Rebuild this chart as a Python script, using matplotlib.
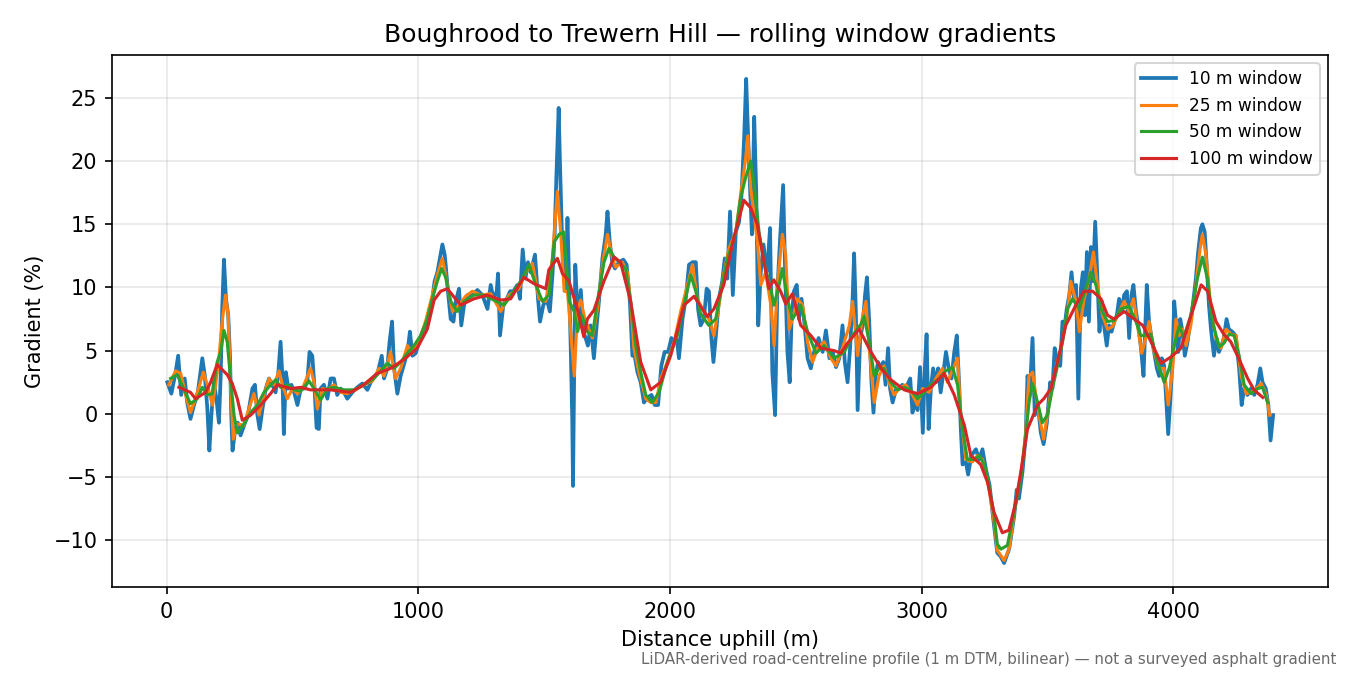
import matplotlib
matplotlib.use('Agg')
import matplotlib.pyplot as plt

# Values (distance in m, gradient in %)
dist_10 = [3, 19, 36, 46, 58, 72, 82, 95, 109, 124, 142, 152, 162, 170, 178, 188, 198, 208, 215, 221,
           228, 236, 245, 252, 257, 262, 273, 283, 294, 310, 323, 341, 351, 361, 370, 381, 394, 407, 420, 433,
           443, 453, 460, 466, 474, 484, 496, 507, 520, 533, 546, 559, 568, 579, 588, 596, 605, 612, 625, 639,
           652, 665, 678, 692, 705, 718, 738, 758, 778, 798, 818, 838, 855, 864, 877, 886, 896, 904, 917, 930,
           946, 959, 967, 977, 990, 1003, 1017, 1029, 1043, 1056, 1065, 1076, 1086, 1096, 1105, 1109, 1118, 1129, 1140, 1149,
           1162, 1171, 1182, 1195, 1215, 1235, 1255, 1275, 1288, 1299, 1312, 1317, 1325, 1338, 1352, 1365, 1378, 1394, 1404, 1415,
           1426, 1436, 1447, 1464, 1476, 1484, 1497, 1510, 1523, 1534, 1542, 1550, 1558, 1563, 1571, 1579, 1586, 1593, 1601, 1606,
           1612, 1615, 1624, 1635, 1646, 1656, 1665, 1674, 1685, 1698, 1709, 1718, 1732, 1745, 1752, 1761, 1772, 1782, 1798, 1815,
           1828, 1841, 1851, 1860, 1871, 1884, 1897, 1911, 1927, 1940, 1953, 1966, 1979, 1993, 2006, 2017, 2027, 2036, 2050, 2063,
           2076, 2090, 2103, 2112, 2122, 2135, 2146, 2155, 2165, 2173, 2182, 2195, 2208, 2218, 2228, 2239, 2250, 2262, 2275, 2284,
           2295, 2303, 2310, 2318, 2326, 2335, 2343, 2351, 2361, 2372, 2384, 2390, 2398, 2407, 2418, 2427, 2438, 2450, 2458, 2467,
           2476, 2484, 2493, 2504, 2513, 2523, 2533, 2547, 2560, 2573, 2591, 2607, 2620, 2634, 2647, 2660, 2673, 2686, 2695, 2706,
           2716, 2726, 2732, 2739, 2746, 2756, 2766, 2776, 2783, 2792, 2801, 2809, 2818, 2827, 2838, 2848, 2857, 2867, 2875, 2885,
           2898, 2911, 2924, 2937, 2955, 2964, 2973, 2984, 2994, 3005, 3013, 3020, 3028, 3037, 3046, 3057, 3066, 3076, 3087, 3097,
           3108, 3119, 3130, 3140, 3149, 3156, 3163, 3176, 3185, 3198, 3216, 3229, 3242, 3256, 3270, 3282, 3301, 3315, 3328, 3348,
           3368, 3378, 3387, 3401, 3414, 3421, 3431, 3441, 3450, 3461, 3474, 3485, 3498, 3511, 3520, 3529, 3540, 3551, 3560, 3569,
           3577, 3587, 3596, 3606, 3614, 3623, 3633, 3641, 3649, 3657, 3665, 3673, 3681, 3690, 3699, 3707, 3716, 3725, 3736, 3745,
           3755, 3766, 3776, 3785, 3795, 3805, 3816, 3825, 3834, 3842, 3852, 3863, 3872, 3882, 3895, 3904, 3914, 3924, 3935, 3944,
           3955, 3964, 3972, 3980, 3988, 3998, 4004, 4012, 4020, 4028, 4037, 4046, 4057, 4068, 4078, 4090, 4099, 4110, 4116, 4125,
           4133, 4142, 4151, 4162, 4172, 4182, 4192, 4201, 4212, 4221, 4235, 4248, 4262, 4272, 4282, 4295, 4309, 4322, 4335, 4346,
           4355, 4368, 4378, 4387, 4397]
grad_10 = [2.5, 1.6, 3.3, 4.6, 1.5, 2.8, 0.9, -0.4, 0.7, 1.7, 4.4, 3.0, 0.4, -2.9, -0.1, 2.5, 1.2, -0.7, 3.0, 8.3,
           12.2, 9.1, 7.8, 4.6, -0.1, -2.9, -1.2, -0.7, -1.7, -0.8, -0.1, 2.0, 2.3, -0.1, -1.2, 0.4, 2.0, 2.8, 2.3, 1.7,
           3.0, 5.7, 3.0, -1.6, 3.3, 2.0, 2.3, 1.7, 0.7, 2.0, 2.0, 2.5, 4.9, 4.6, 2.0, -1.1, -1.2, 2.0, 2.3, 1.2,
           2.8, 2.8, 1.5, 2.0, 1.7, 1.2, 1.7, 2.1, 2.4, 1.9, 2.8, 3.2, 4.6, 2.8, 3.6, 5.7, 7.3, 3.6, 1.6, 3.0,
           4.1, 5.2, 6.5, 4.6, 4.8, 5.7, 6.5, 7.0, 8.1, 9.1, 10.5, 11.2, 12.3, 13.4, 12.6, 11.8, 9.7, 7.5, 7.3, 8.9,
           9.9, 7.0, 8.6, 9.4, 9.4, 9.8, 9.4, 8.3, 10.2, 9.1, 9.7, 11.1, 6.2, 8.6, 9.1, 9.7, 9.7, 10.2, 9.1, 13.0,
           10.7, 12.0, 11.2, 12.6, 9.1, 7.3, 8.6, 9.1, 8.1, 11.2, 14.2, 19.4, 24.2, 20.0, 14.2, 12.3, 9.7, 15.5, 9.1, 5.2,
           -0.4, -5.7, 11.8, 7.0, 9.8, 6.5, 6.0, 5.4, 7.0, 4.4, 7.0, 8.9, 12.3, 14.2, 16.0, 13.6, 11.9, 11.5, 12.0, 12.2,
           11.8, 8.9, 4.6, 4.6, 3.3, 2.5, 0.9, 1.3, 1.5, 0.7, 0.7, 3.8, 4.9, 4.9, 6.0, 5.7, 6.0, 4.4, 7.5, 9.1,
           11.8, 12.0, 12.0, 8.3, 7.0, 7.5, 9.9, 9.7, 6.0, 4.1, 6.0, 9.1, 10.5, 12.3, 10.7, 16.0, 9.4, 14.4, 15.2, 17.1,
           21.8, 26.5, 22.4, 18.1, 14.2, 23.5, 17.6, 7.0, 11.2, 13.4, 11.2, 12.3, 14.7, 3.3, -0.1, 9.7, 13.9, 18.1, 11.2, 4.9,
           2.5, 7.8, 9.7, 10.2, 7.5, 9.1, 7.5, 4.4, 3.6, 4.9, 6.0, 4.9, 6.6, 4.4, 4.9, 3.7, 4.4, 7.0, 4.1, 2.5,
           5.2, 9.1, 12.7, 8.1, 0.3, 6.0, 7.0, 9.5, 10.8, 7.3, 2.5, 0.1, 3.0, 4.1, 3.6, 4.1, 2.3, 5.2, 2.0, 0.9,
           1.9, 2.0, 2.3, 2.0, 2.8, 0.1, 1.2, 0.3, 3.7, -1.5, 3.6, 6.3, -1.2, 2.0, 3.6, 2.5, 3.6, 1.7, 3.3, 4.9,
           3.6, 2.8, 4.9, 6.2, 2.5, -1.2, -4.0, -3.8, -4.8, -3.3, -2.8, -3.6, -2.8, -4.4, -5.6, -7.8, -11.0, -11.3, -11.8, -10.7,
           -8.1, -6.0, -6.7, -4.6, -1.7, 3.0, 2.0, 6.0, -0.1, 0.9, -1.5, -2.4, -0.7, 2.5, 2.0, 5.2, 4.1, 3.8, 7.3, 7.0,
           8.3, 9.4, 11.2, 8.9, 10.2, 1.2, 9.9, 11.2, 7.8, 12.8, 7.3, 13.2, 10.5, 15.2, 10.7, 6.5, 8.9, 7.0, 5.4, 7.0,
           6.5, 7.3, 7.8, 9.1, 8.1, 9.4, 9.7, 6.0, 9.4, 10.2, 8.1, 6.7, 5.2, 3.0, 10.2, 7.3, 6.0, 4.9, 3.6, 3.0,
           4.4, 3.8, 1.2, -1.6, 0.9, 4.6, 8.9, 7.0, 4.9, 7.5, 6.5, 4.6, 5.7, 7.3, 8.6, 10.7, 12.8, 14.7, 15.0, 14.4,
           11.8, 8.6, 6.5, 4.6, 6.0, 4.9, 5.4, 6.0, 7.5, 6.7, 6.5, 6.2, 3.6, 0.7, 2.0, 1.5, 2.0, 1.5, 2.3, 3.6,
           2.5, 2.0, 0.7, -2.1, -0.1]

dist_25 = [9, 36, 56, 76, 95, 115, 146, 162, 182, 195, 208, 221, 234, 245, 254, 265, 281, 307, 327, 347,
           367, 387, 407, 427, 447, 460, 480, 500, 520, 540, 572, 586, 599, 619, 639, 665, 692, 718, 751, 784,
           818, 844, 864, 890, 910, 930, 957, 977, 1003, 1029, 1056, 1076, 1096, 1116, 1136, 1162, 1188, 1215, 1248, 1288,
           1328, 1361, 1400, 1427, 1454, 1480, 1507, 1533, 1553, 1566, 1580, 1593, 1609, 1620, 1633, 1646, 1662, 1672, 1692, 1712,
           1732, 1752, 1772, 1785, 1811, 1831, 1844, 1857, 1877, 1904, 1924, 1944, 1964, 1990, 2017, 2043, 2070, 2090, 2109, 2129,
           2155, 2175, 2195, 2215, 2235, 2262, 2281, 2301, 2310, 2321, 2335, 2348, 2361, 2381, 2401, 2414, 2427, 2447, 2460, 2474,
           2487, 2507, 2527, 2547, 2567, 2587, 2613, 2640, 2660, 2686, 2713, 2726, 2746, 2766, 2779, 2792, 2812, 2831, 2851, 2871,
           2891, 2911, 2937, 2964, 2984, 3004, 3030, 3057, 3083, 3103, 3130, 3143, 3156, 3176, 3202, 3222, 3242, 3262, 3288, 3301,
           3315, 3328, 3348, 3374, 3394, 3414, 3427, 3441, 3454, 3467, 3485, 3500, 3520, 3540, 3560, 3580, 3593, 3613, 3627, 3646,
           3666, 3683, 3699, 3719, 3739, 3759, 3779, 3805, 3825, 3842, 3858, 3875, 3891, 3904, 3924, 3944, 3964, 3980, 3998, 4011,
           4024, 4037, 4051, 4070, 4090, 4107, 4116, 4130, 4150, 4170, 4190, 4210, 4230, 4250, 4270, 4290, 4309, 4330, 4350, 4370,
           4383]
grad_25 = [2.3, 3.4, 3.2, 1.5, 0.1, 1.2, 3.3, 2.3, 0.7, 2.3, 4.4, 7.3, 9.4, 7.8, 2.3, -2.0, -0.8, -0.9, 0.4, 1.6,
           -0.1, 1.5, 2.8, 2.3, 3.4, 2.3, 1.2, 2.0, 1.6, 2.0, 3.6, 2.5, 0.4, 2.0, 1.9, 2.3, 1.7, 1.6, 1.9, 2.3,
           2.6, 3.6, 3.0, 4.9, 2.8, 3.6, 5.4, 4.8, 5.8, 7.3, 9.4, 11.0, 12.3, 10.2, 8.1, 8.6, 9.3, 9.7, 9.4, 9.5,
           8.1, 9.4, 9.9, 11.2, 11.9, 9.1, 8.9, 12.3, 17.6, 14.4, 9.7, 9.7, 5.7, 3.0, 8.3, 9.0, 7.5, 7.0, 6.0, 8.3,
           11.8, 14.2, 12.3, 11.6, 12.0, 11.2, 8.9, 5.2, 3.3, 1.2, 0.9, 0.9, 2.8, 4.1, 5.7, 8.1, 10.2, 11.8, 9.1, 8.3,
           7.5, 6.2, 8.6, 11.2, 13.1, 14.4, 17.3, 20.2, 22.0, 17.9, 15.7, 13.6, 10.2, 11.2, 8.6, 5.4, 10.2, 14.2, 12.6, 6.7,
           7.5, 9.1, 8.6, 5.7, 4.1, 5.2, 5.7, 4.4, 3.8, 5.2, 7.0, 8.9, 4.6, 7.8, 8.9, 5.2, 0.9, 3.0, 3.8, 2.5,
           1.5, 2.0, 2.3, 1.5, 0.7, 2.0, 1.7, 2.8, 3.6, 2.5, 3.8, 4.4, -0.1, -3.6, -3.8, -3.3, -3.6, -5.2, -8.5, -10.8,
           -11.2, -11.6, -10.7, -7.0, -4.9, -1.5, 3.0, 3.3, 1.5, -0.1, -2.0, -0.1, 2.5, 4.1, 5.7, 8.1, 10.5, 8.9, 6.5, 9.1,
           10.7, 12.8, 10.2, 7.8, 6.7, 6.9, 7.8, 8.9, 8.1, 9.1, 7.0, 4.8, 6.0, 7.3, 4.9, 3.6, 3.6, 0.7, 3.6, 7.5,
           6.2, 6.7, 5.4, 7.0, 10.2, 13.1, 14.2, 12.6, 8.3, 6.0, 5.2, 6.7, 6.3, 6.2, 3.0, 1.6, 1.7, 2.0, 2.4, 1.5,
           -0.1]

dist_50 = [16, 42, 68, 95, 122, 142, 162, 182, 201, 215, 228, 241, 254, 268, 281, 307, 334, 361, 387, 414,
           434, 453, 480, 507, 533, 566, 586, 612, 639, 665, 705, 745, 784, 824, 851, 877, 904, 930, 957, 983,
           1010, 1036, 1056, 1076, 1093, 1109, 1129, 1155, 1182, 1222, 1261, 1301, 1341, 1380, 1414, 1440, 1467, 1494, 1520, 1540,
           1560, 1577, 1586, 1600, 1620, 1633, 1650, 1672, 1692, 1712, 1738, 1758, 1778, 1804, 1824, 1844, 1864, 1884, 1904, 1930,
           1957, 1990, 2030, 2056, 2083, 2103, 2122, 2155, 2182, 2202, 2225, 2262, 2281, 2301, 2321, 2335, 2354, 2374, 2401, 2414,
           2434, 2447, 2467, 2487, 2520, 2547, 2580, 2613, 2653, 2693, 2726, 2759, 2772, 2792, 2812, 2831, 2851, 2878, 2904, 2931,
           2957, 2984, 3010, 3037, 3070, 3096, 3123, 3143, 3163, 3182, 3209, 3229, 3249, 3262, 3288, 3301, 3315, 3341, 3368, 3394,
           3414, 3427, 3441, 3461, 3480, 3500, 3520, 3540, 3560, 3580, 3600, 3627, 3653, 3673, 3693, 3713, 3739, 3766, 3792, 3825,
           3852, 3871, 3891, 3911, 3937, 3964, 3984, 4004, 4023, 4043, 4070, 4096, 4116, 4136, 4156, 4182, 4202, 4222, 4242, 4262,
           4282, 4309, 4335, 4355, 4375]
grad_50 = [2.8, 3.1, 2.0, 0.8, 1.2, 2.1, 1.5, 1.6, 4.1, 4.9, 6.6, 5.7, 2.8, -0.1, -1.5, -0.8, 0.1, 0.7, 1.7, 2.3,
           2.7, 2.1, 2.3, 1.9, 1.8, 2.6, 2.0, 1.1, 2.0, 2.1, 1.9, 1.9, 2.3, 2.8, 3.4, 4.0, 3.6, 4.1, 4.8, 5.4,
           6.2, 7.5, 9.1, 10.5, 11.5, 10.8, 8.9, 8.1, 8.9, 9.4, 9.4, 9.0, 8.6, 9.7, 10.7, 11.8, 10.2, 8.9, 9.4, 13.6,
           14.2, 14.4, 12.6, 8.9, 8.1, 6.5, 7.8, 6.5, 6.2, 8.9, 12.0, 13.1, 12.4, 11.9, 11.5, 8.9, 5.4, 3.3, 1.5, 0.9,
           1.7, 4.1, 6.2, 8.6, 11.0, 9.7, 7.9, 7.0, 7.5, 9.6, 12.0, 14.4, 17.1, 18.7, 20.0, 18.1, 14.4, 12.0, 9.9, 8.6,
           10.2, 11.5, 9.1, 7.5, 8.6, 6.5, 4.8, 5.4, 4.4, 4.9, 6.2, 7.1, 7.7, 5.7, 3.0, 3.6, 3.6, 2.5, 1.9, 2.1,
           1.9, 1.2, 1.7, 2.3, 2.8, 3.4, 3.7, 2.3, -1.2, -3.6, -3.6, -3.3, -4.0, -5.0, -8.0, -10.3, -10.7, -10.4, -7.8, -5.2,
           -1.7, 0.9, 2.4, 0.9, -0.7, -0.1, 2.0, 3.8, 5.7, 8.3, 9.1, 8.3, 9.9, 11.2, 10.2, 8.3, 7.3, 7.4, 8.3, 8.5,
           7.3, 6.2, 6.2, 6.3, 4.1, 2.5, 3.6, 5.4, 6.9, 6.1, 7.8, 10.7, 12.4, 10.7, 7.3, 5.3, 5.6, 6.3, 6.2, 4.6,
           2.3, 1.6, 2.0, 2.1, 0.9]

dist_100 = [49, 95, 115, 155, 175, 201, 241, 261, 281, 301, 334, 374, 413, 440, 493, 533, 572, 612, 652, 731,
            783, 837, 890, 943, 996, 1036, 1063, 1089, 1116, 1168, 1221, 1275, 1328, 1367, 1420, 1460, 1507, 1519, 1553, 1573,
            1599, 1632, 1658, 1672, 1698, 1738, 1778, 1804, 1844, 1884, 1924, 1963, 2003, 2056, 2096, 2149, 2175, 2214, 2254, 2294,
            2321, 2347, 2367, 2393, 2413, 2440, 2460, 2487, 2520, 2560, 2600, 2653, 2679, 2706, 2752, 2799, 2839, 2878, 2931, 2984,
            3037, 3090, 3130, 3170, 3196, 3235, 3262, 3288, 3321, 3347, 3374, 3401, 3421, 3461, 3486, 3514, 3540, 3573, 3613, 3645,
            3680, 3713, 3739, 3765, 3805, 3845, 3879, 3912, 3952, 3991, 4031, 4071, 4111, 4137, 4170, 4201, 4229, 4260, 4296, 4321,
            4356]
grad_100 = [2.1, 1.7, 1.2, 1.7, 2.5, 3.9, 3.1, 2.4, 1.2, -0.5, -0.1, 0.7, 1.6, 2.3, 2.0, 2.1, 1.9, 1.9, 1.9, 1.7,
            2.3, 3.2, 3.6, 4.3, 5.2, 6.7, 9.0, 9.7, 9.9, 8.6, 9.1, 9.4, 9.0, 9.1, 10.8, 10.3, 9.9, 11.4, 12.3, 11.1,
            10.5, 8.3, 6.1, 7.5, 8.2, 10.5, 12.4, 12.0, 8.9, 4.1, 1.9, 2.5, 4.6, 8.6, 9.3, 7.7, 8.3, 10.2, 13.9, 16.9,
            16.3, 15.0, 12.8, 9.9, 10.6, 9.7, 8.7, 9.5, 7.0, 6.2, 5.2, 5.0, 4.8, 5.6, 6.7, 4.9, 3.6, 2.7, 1.9, 1.6,
            2.1, 3.2, 1.5, -0.9, -3.3, -4.0, -5.4, -7.8, -9.4, -9.2, -7.0, -3.8, -1.2, 0.7, 1.2, 2.0, 4.1, 7.0, 8.6, 9.7,
            9.7, 9.1, 7.8, 7.5, 8.1, 7.5, 7.0, 5.7, 4.0, 4.5, 5.2, 7.8, 10.2, 9.7, 7.3, 6.3, 5.7, 4.4, 2.8, 1.9,
            1.3]

series = [
    (dist_10, grad_10, '10 m window', '#1f77b4', 1.8),
    (dist_25, grad_25, '25 m window', '#ff7f0e', 1.5),
    (dist_50, grad_50, '50 m window', '#2ca02c', 1.5),
    (dist_100, grad_100, '100 m window', '#d62728', 1.5),
]

fig, ax = plt.subplots(figsize=(9, 4.5), dpi=150)

# One line per rolling window, widest window drawn last
for dist, grad, label, colour, lw in series:
    ax.plot(dist, grad, color=colour, linewidth=lw, label=label)

ax.set_title('Boughrood to Trewern Hill \u2014 rolling window gradients', fontsize=12)
ax.set_xlabel('Distance uphill (m)', fontsize=10)
ax.set_ylabel('Gradient (%)', fontsize=10)
ax.grid(True, alpha=0.3)
ax.legend(loc='upper right', fontsize=8.2)

fig.subplots_adjust(left=0.083, right=0.984, top=0.919, bottom=0.130)

# Source note in the bottom right corner
fig.text(0.99, 0.012,
         'LiDAR-derived road-centreline profile (1 m DTM, bilinear) \u2014 not a surveyed asphalt gradient',
         ha='right', va='bottom', fontsize=7.2, color='dimgray')

fig.savefig('out.png', dpi=150)
